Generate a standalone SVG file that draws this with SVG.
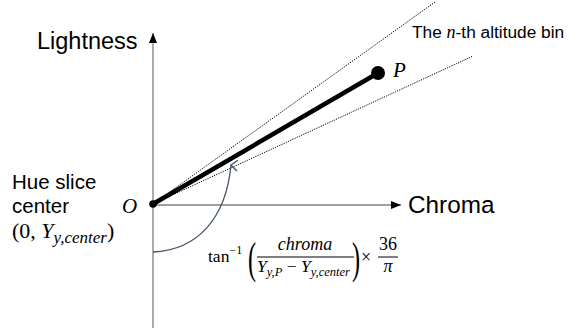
<svg xmlns="http://www.w3.org/2000/svg" width="576" height="331" viewBox="0 0 576 331">
<defs>
<style>
.sans{font-family:"Liberation Sans",Arial,sans-serif;fill:#000}
.math{font-family:"Liberation Serif","DejaVu Serif",serif;fill:#000}
.it{font-style:italic}
.axis{stroke:#808080;stroke-width:1.3;fill:none}
.dot{stroke:#000;stroke-width:1;stroke-dasharray:1.2 1.2;fill:none}
</style>
<marker id="ah" viewBox="0 0 10 10" refX="10" refY="5" markerWidth="10" markerHeight="10" markerUnits="userSpaceOnUse" orient="auto">
<path d="M0,1 L10,5 L0,9 Z" fill="#000"/>
</marker>
<marker id="oh" viewBox="0 0 12 12" refX="6" refY="2" markerWidth="13" markerHeight="13" markerUnits="userSpaceOnUse" orient="auto-start-reverse">
<path d="M1,8 L6,2 L11,8" fill="none" stroke="#44546A" stroke-width="1.3"/>
</marker>
</defs>
<rect width="576" height="331" fill="#fff"/>
<g id="connectors">
<line class="axis" x1="153" y1="328" x2="153" y2="33" marker-end="url(#ah)"/>
<line class="axis" x1="153" y1="205" x2="401" y2="205" marker-end="url(#ah)"/>
<line class="dot" x1="153" y1="204" x2="435" y2="2"/>
<line class="dot" x1="153" y1="204" x2="473" y2="56"/>
<line x1="153" y1="204" x2="378" y2="73" stroke="#000" stroke-width="4.5"/>
<path d="M153,252 C198,250 226,218 231,165" fill="none" stroke="#44546A" stroke-width="1.3" marker-end="url(#oh)"/>
</g>
<g id="origin">
<circle cx="153" cy="204" r="3.8" fill="#000"/>
<text class="math it" x="122" y="213" font-size="21">O</text>
</g>
<g id="point-P">
<circle cx="378" cy="73" r="7" fill="#000"/>
<text class="math it" x="393" y="77" font-size="21">P</text>
</g>
<g id="lightness-label">
<text class="sans" x="37" y="49" font-size="23.5">Lightness</text>
</g>
<g id="chroma-label">
<text class="sans" x="408" y="213" font-size="24.3">Chroma</text>
</g>
<g id="bin-label">
<text class="sans" x="412" y="38" font-size="17.3">The <tspan class="math it" font-size="18">n</tspan>-th altitude bin</text>
</g>
<g id="hue-center-label">
<text class="sans" x="12" y="189" font-size="20.5">Hue slice</text>
<text class="sans" x="12" y="213" font-size="20.5">center</text>
<text class="math" x="12" y="238" font-size="22">(0, <tspan class="it">Y</tspan><tspan class="it" font-size="17" dy="5">y,center</tspan><tspan dy="-5">)</tspan></text>
</g>
<g id="formula">
<text class="math" x="208" y="262" font-size="17.5">tan<tspan font-size="12" dy="-8">−1</tspan></text>
<text class="math" transform="translate(248,273) scale(0.55,1)" font-size="44">(</text>
<text class="math" transform="translate(352,273) scale(0.55,1)" font-size="44">)</text>
<text class="math it" x="305" y="250" font-size="18" text-anchor="middle">chroma</text>
<line x1="257" y1="257" x2="354" y2="257" stroke="#000" stroke-width="1"/>
<text class="math it" x="257" y="272" font-size="17.5">Y<tspan font-size="12.5" dy="4">y,P</tspan><tspan font-style="normal" font-size="17.5" dy="-4"> − </tspan>Y<tspan font-size="12.5" dy="4">y,center</tspan></text>
<text class="math" x="361" y="263" font-size="18">×</text>
<text class="math" x="388" y="250" font-size="18" text-anchor="middle">36</text>
<line x1="378" y1="257" x2="398" y2="257" stroke="#000" stroke-width="1"/>
<text class="math it" x="388" y="272" font-size="18" text-anchor="middle">π</text>
</g>
</svg>
